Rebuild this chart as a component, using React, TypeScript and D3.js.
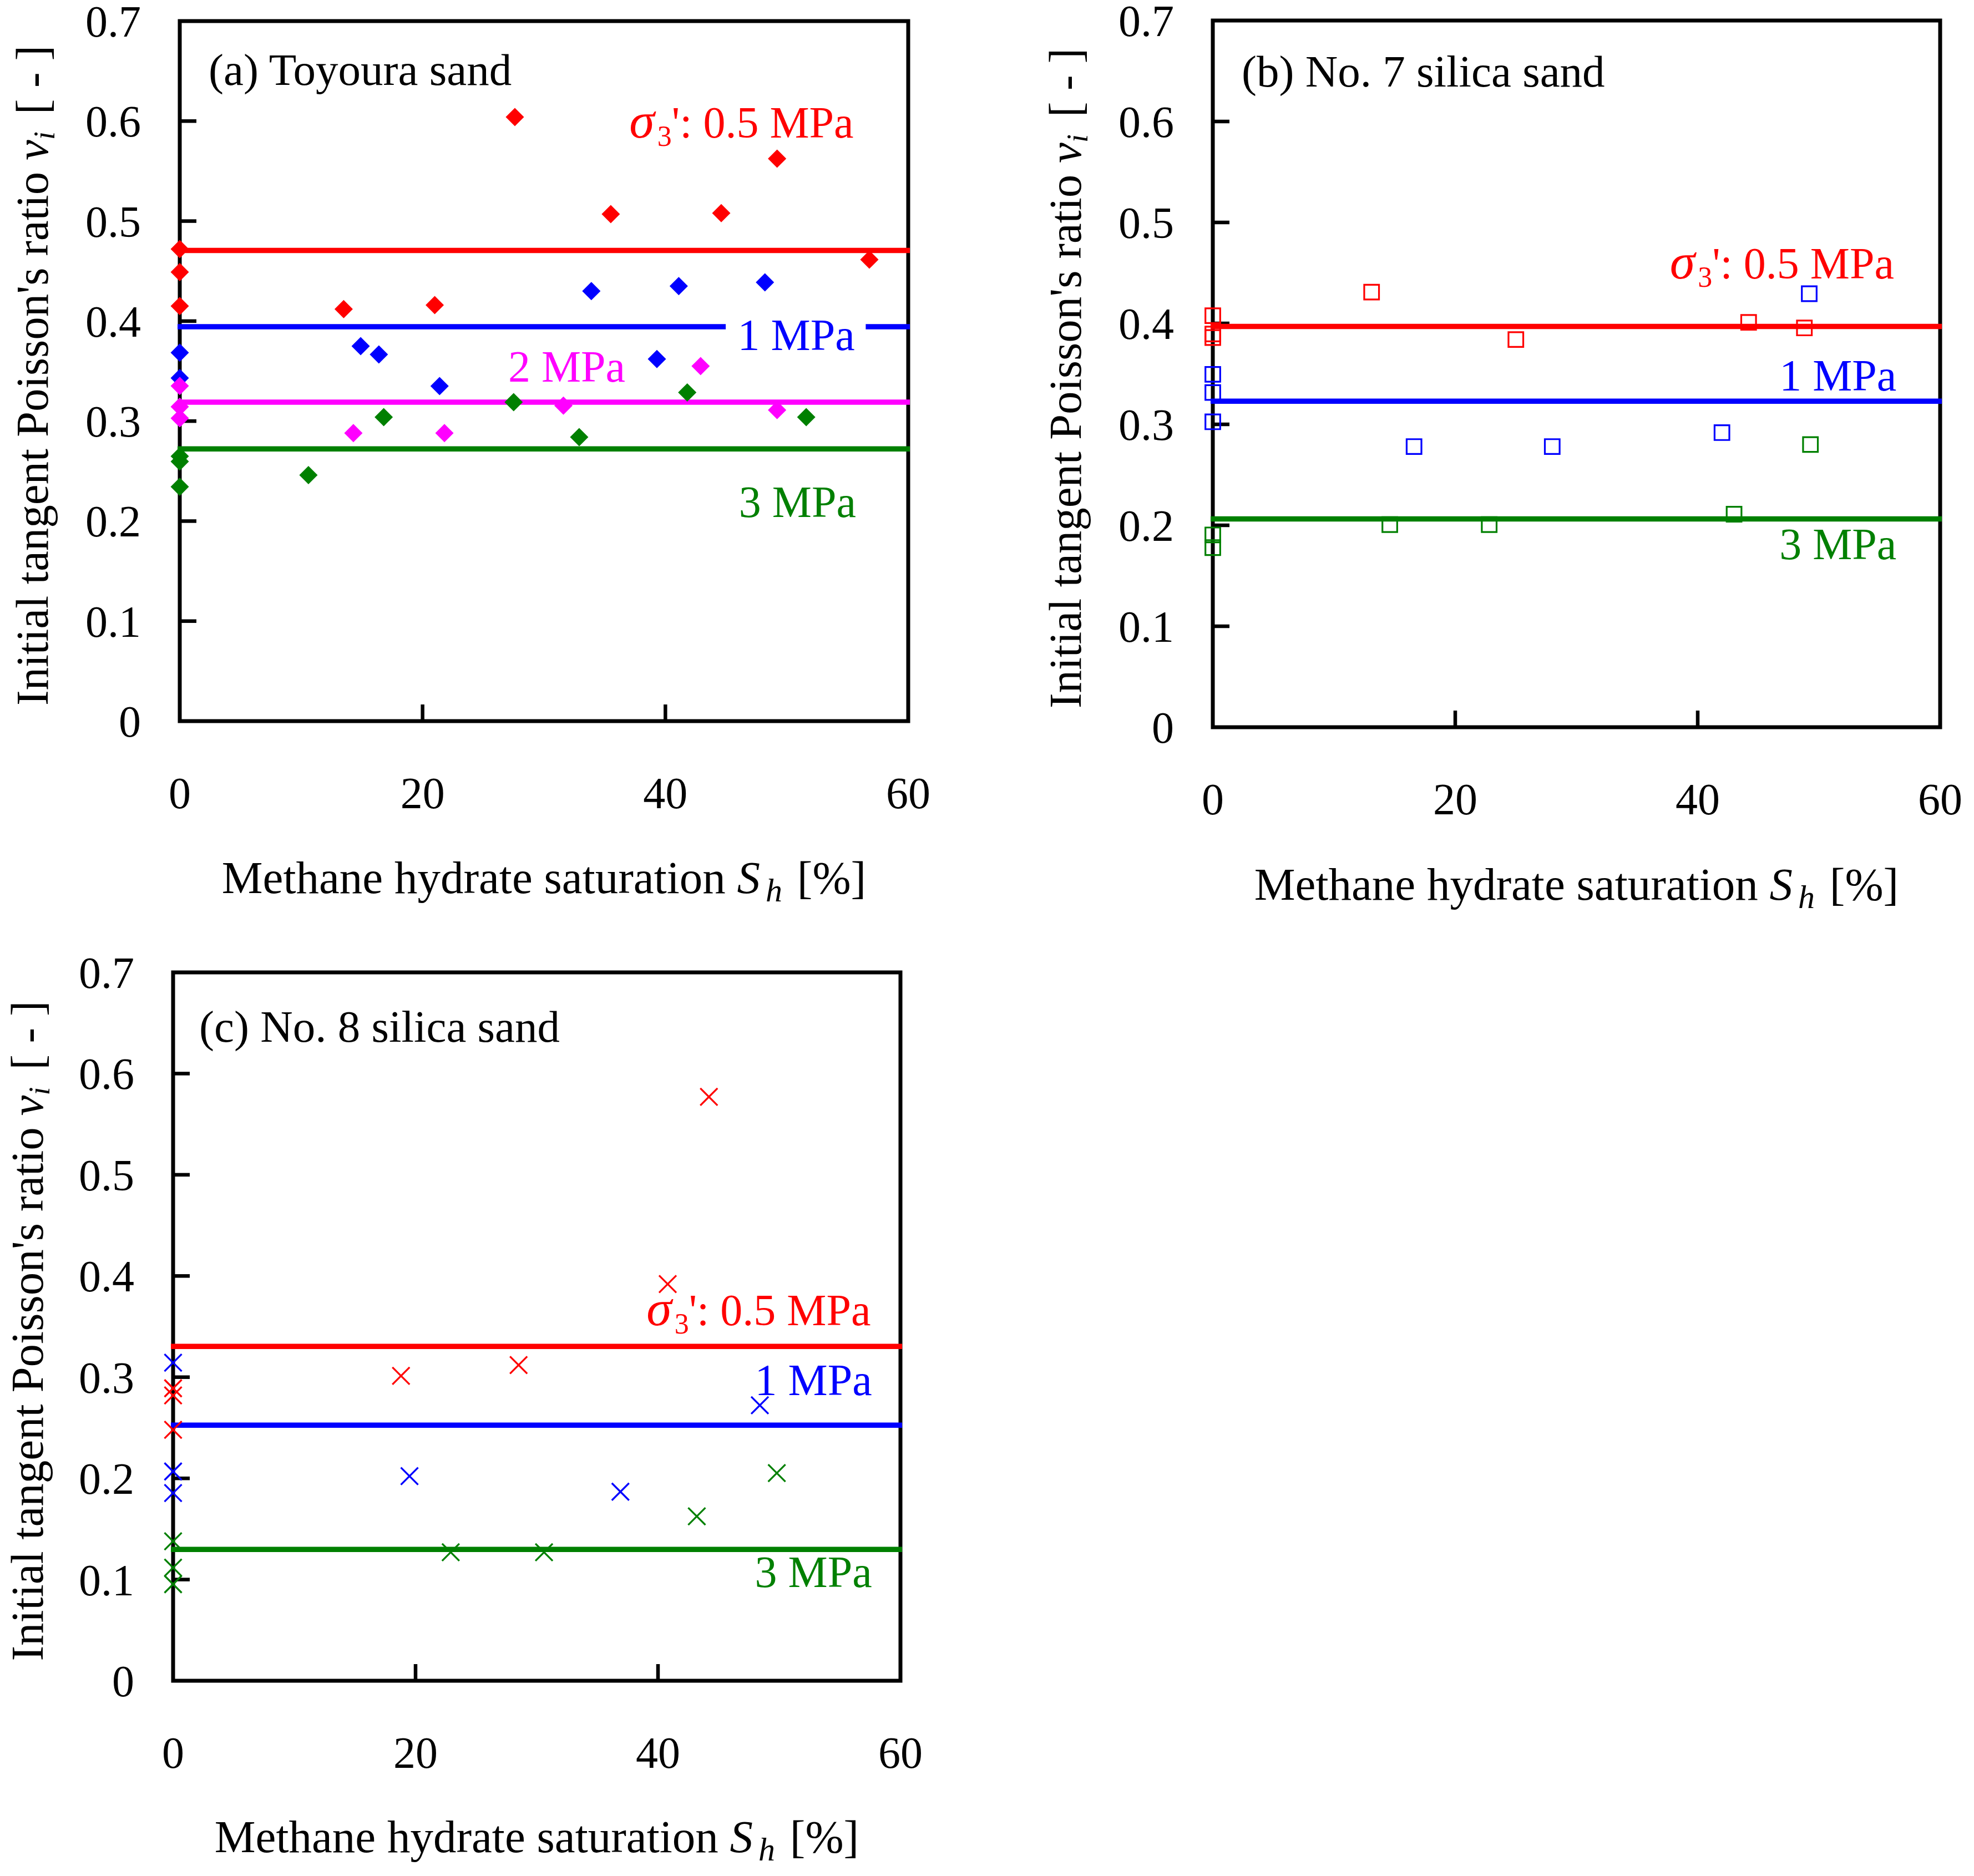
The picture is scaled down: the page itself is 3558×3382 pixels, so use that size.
import React from 'react';
import * as d3 from 'd3';

type Pt = [number, number];

const xTicks = [0, 20, 40, 60];
const yTicks = [0, 0.1, 0.2, 0.3, 0.4, 0.5, 0.6, 0.7];
const pressures = ['0.5 MPa', '1 MPa', '2 MPa', '3 MPa'];

// (a) Toyoura sand, Sh [%] vs vi
const toyoura05: Pt[] = [[0, 0.472], [0, 0.449], [0, 0.415], [13.5, 0.412], [21.0, 0.416], [27.6, 0.604], [35.5, 0.507], [44.6, 0.508], [49.2, 0.5625], [56.8, 0.4615]];
const toyoura1: Pt[] = [[0, 0.3685], [0, 0.343], [14.9, 0.375], [16.4, 0.3666], [21.4, 0.335], [33.9, 0.43], [39.3, 0.362], [41.1, 0.435], [48.2, 0.4387]];
const toyoura2: Pt[] = [[0, 0.3352], [0, 0.3143], [0, 0.3028], [14.3, 0.288], [21.8, 0.288], [31.6, 0.3155], [42.9, 0.355], [49.2, 0.311]];
const toyoura3: Pt[] = [[0, 0.2648], [0, 0.2596], [0, 0.2343], [10.6, 0.246], [16.8, 0.304], [27.5, 0.319], [32.9, 0.284], [41.8, 0.3287], [51.6, 0.304]];
const toyouraFit = [0.4706, 0.3944, 0.319, 0.2722];

// (b) No. 7 silica sand
const silica7_05: Pt[] = [[0, 0.4076], [0, 0.3895], [0, 0.386], [13.1, 0.431], [25.0, 0.384], [44.2, 0.401], [48.8, 0.3955]];
const silica7_1: Pt[] = [[0, 0.3495], [0, 0.3315], [0, 0.3025], [16.6, 0.278], [28.0, 0.278], [42.0, 0.2918], [49.2, 0.4294]];
const silica7_3: Pt[] = [[0, 0.1905], [0, 0.1779], [14.6, 0.2007], [22.8, 0.2007], [43.0, 0.211], [49.3, 0.28]];
const silica7Fit = [0.397, 0.323, 0.2063];

// (c) No. 8 silica sand
const silica8_05: Pt[] = [[0, 0.289], [0, 0.282], [0, 0.248], [18.8, 0.3013], [28.5, 0.312], [40.8, 0.392], [44.2, 0.577]];
const silica8_1: Pt[] = [[0, 0.3143], [0, 0.2068], [0, 0.1855], [19.5, 0.2022], [36.9, 0.1868], [48.4, 0.2722]];
const silica8_3: Pt[] = [[0, 0.1378], [0, 0.1118], [0, 0.0954], [22.9, 0.127], [30.6, 0.127], [43.2, 0.1625], [49.8, 0.2052]];
const silica8Fit = [0.3304, 0.2525, 0.1298];

const RED = '#FF0000';
const BLUE = '#0000FF';
const MAGENTA = '#FF00FF';
const GREEN = '#008000';
const FONT = '"Liberation Serif", "Times New Roman", serif';

type Marker = 'diamond' | 'square' | 'cross';

interface Series {
  color: string;
  points: Pt[];
  fit: number;
  label: string;
  lx: number; // label anchor (end) in data units
  ly: number;
  sigma?: boolean;
  knockout?: [number, number]; // white box behind label, data x range
}

interface PanelCfg {
  title: string;
  left: number;
  right: number;
  top: number;
  bottom: number;
  titleX: number;
  titleY: number;
  marker: Marker;
  series: Series[];
  yTitleX: number;
  xTitleY: number;
}

const panels: PanelCfg[] = [
  {
    title: '(a) Toyoura sand',
    left: 324, right: 1637, top: 38, bottom: 1300,
    titleX: 376, titleY: 153,
    marker: 'diamond',
    yTitleX: 86, xTitleY: 1610,
    series: [
      { color: RED, points: toyoura05, fit: toyouraFit[0], label: pressures[0], lx: 55.5, ly: 0.5835, sigma: true },
      { color: BLUE, points: toyoura1, fit: toyouraFit[1], label: pressures[1], lx: 55.6, ly: 0.3711, knockout: [44.97, 56.5] },
      { color: MAGENTA, points: toyoura2, fit: toyouraFit[2], label: pressures[2], lx: 36.7, ly: 0.3394 },
      { color: GREEN, points: toyoura3, fit: toyouraFit[3], label: pressures[3], lx: 55.7, ly: 0.2041 },
    ],
  },
  {
    title: '(b) No. 7 silica sand',
    left: 2186, right: 3497, top: 37, bottom: 1311,
    titleX: 2238, titleY: 156,
    marker: 'square',
    yTitleX: 1948, xTitleY: 1622,
    series: [
      { color: RED, points: silica7_05, fit: silica7Fit[0], label: pressures[0], lx: 56.2, ly: 0.4447, sigma: true },
      { color: BLUE, points: silica7_1, fit: silica7Fit[1], label: pressures[1], lx: 56.4, ly: 0.3335 },
      { color: GREEN, points: silica7_3, fit: silica7Fit[2], label: pressures[3], lx: 56.4, ly: 0.1667 },
    ],
  },
  {
    title: '(c) No. 8 silica sand',
    left: 312, right: 1623, top: 1753, bottom: 3030,
    titleX: 359, titleY: 1878,
    marker: 'cross',
    yTitleX: 77, xTitleY: 3339,
    series: [
      { color: RED, points: silica8_05, fit: silica8Fit[0], label: pressures[0], lx: 57.55, ly: 0.3514, sigma: true },
      { color: BLUE, points: silica8_1, fit: silica8Fit[1], label: pressures[1], lx: 57.65, ly: 0.2821 },
      { color: GREEN, points: silica8_3, fit: silica8Fit[2], label: pressures[3], lx: 57.65, ly: 0.0927 },
    ],
  },
];

const diamondPath = d3.symbol(d3.symbolSquare, 545)()!;
const squarePath = d3.symbol(d3.symbolSquare, 708)()!;
const crossR = 15.5;
const crossPath = `M${-crossR},${-crossR}L${crossR},${crossR}M${-crossR},${crossR}L${crossR},${-crossR}`;

function MarkerMark({ kind, cx, cy, color }: { kind: Marker; cx: number; cy: number; color: string }) {
  if (kind === 'diamond') {
    return <path d={diamondPath} transform={`translate(${cx},${cy}) rotate(45)`} fill={color} />;
  }
  if (kind === 'square') {
    return <path d={squarePath} transform={`translate(${cx},${cy})`} fill="none" stroke={color} strokeWidth={3.2} />;
  }
  return <path d={crossPath} transform={`translate(${cx},${cy})`} fill="none" stroke={color} strokeWidth={3.3} />;
}

function Panel({ cfg }: { cfg: PanelCfg }) {
  const x = d3.scaleLinear().domain([0, 60]).range([cfg.left, cfg.right]);
  const y = d3.scaleLinear().domain([0, 0.7]).range([cfg.bottom, cfg.top]);
  const cx = (cfg.left + cfg.right) / 2;
  const cy = (cfg.top + cfg.bottom) / 2;

  return (
    <g fontFamily={FONT}>
      {/* frame */}
      <rect x={cfg.left} y={cfg.top} width={cfg.right - cfg.left} height={cfg.bottom - cfg.top}
        fill="none" stroke="#000" strokeWidth={7} />
      {/* inward ticks */}
      {yTicks.slice(1, -1).map((t) => (
        <line key={`yt${t}`} x1={cfg.left} x2={cfg.left + 30} y1={y(t)} y2={y(t)} stroke="#000" strokeWidth={6.5} />
      ))}
      {xTicks.slice(1, -1).map((t) => (
        <line key={`xt${t}`} x1={x(t)} x2={x(t)} y1={cfg.bottom} y2={cfg.bottom - 30} stroke="#000" strokeWidth={6.5} />
      ))}
      {/* tick labels */}
      {yTicks.map((t) => (
        <text key={`yl${t}`} x={cfg.left - 70} y={y(t) + 28} textAnchor="end" fontSize={80}>
          {t === 0 ? '0' : d3.format('.1f')(t)}
        </text>
      ))}
      {xTicks.map((t) => (
        <text key={`xl${t}`} x={x(t)} y={cfg.bottom + 157} textAnchor="middle" fontSize={80}>
          {t}
        </text>
      ))}
      {/* fit lines */}
      {cfg.series.map((s) => (
        <line key={`fit${s.label}`} x1={x(0) - 4} x2={x(60) + 3} y1={y(s.fit)} y2={y(s.fit)} stroke={s.color} strokeWidth={9.5} />
      ))}
      {/* series labels */}
      {cfg.series.map((s) => (
        <g key={`lab${s.label}`}>
          {s.knockout && (
            <rect x={x(s.knockout[0])} width={x(s.knockout[1]) - x(s.knockout[0])}
              y={y(s.ly) - 62} height={72} fill="#fff" />
          )}
          <text x={x(s.lx)} y={y(s.ly)} textAnchor="end" fontSize={80} fill={s.color}>
            {s.sigma ? (
              <>
                <tspan fontStyle="italic" fontSize={92}>σ</tspan>
                <tspan fontSize={52} dy={15} dx={5}>3</tspan>
                <tspan dy={-15}>{"': "}{s.label}</tspan>
              </>
            ) : s.label}
          </text>
        </g>
      ))}
      {/* markers */}
      {cfg.series.map((s) =>
        s.points.map((p, i) => (
          <MarkerMark key={`m${s.label}${i}`} kind={cfg.marker} cx={x(p[0])} cy={y(p[1])} color={s.color} />
        ))
      )}
      {/* title */}
      <text x={cfg.titleX} y={cfg.titleY} fontSize={81}>{cfg.title}</text>
      {/* axis titles */}
      <text transform={`translate(${cfg.yTitleX},${cy + 8}) rotate(-90)`} textAnchor="middle" fontSize={83}>
        {"Initial tangent Poisson's ratio "}
        <tspan fontStyle="italic">v</tspan>
        <tspan fontStyle="italic" fontSize={54} dy={12}>i</tspan>
        <tspan dy={-12} dx={10}>{' [ - ]'}</tspan>
      </text>
      <text x={cx + 0} y={cfg.xTitleY} textAnchor="middle" fontSize={83}>
        {'Methane hydrate saturation '}
        <tspan fontStyle="italic">S</tspan>
        <tspan fontStyle="italic" fontSize={60} dy={15} dx={10}>h</tspan>
        <tspan dy={-15} dx={6}>{' [%]'}</tspan>
      </text>
    </g>
  );
}

export default function App() {
  return (
    <svg width={3558} height={3382} viewBox="0 0 3558 3382"
      style={{ position: 'absolute', left: 0, top: 0, background: '#fff', display: 'block' }}>
      <rect width={3558} height={3382} fill="#fff" />
      {panels.map((p) => (
        <Panel key={p.title} cfg={p} />
      ))}
    </svg>
  );
}
